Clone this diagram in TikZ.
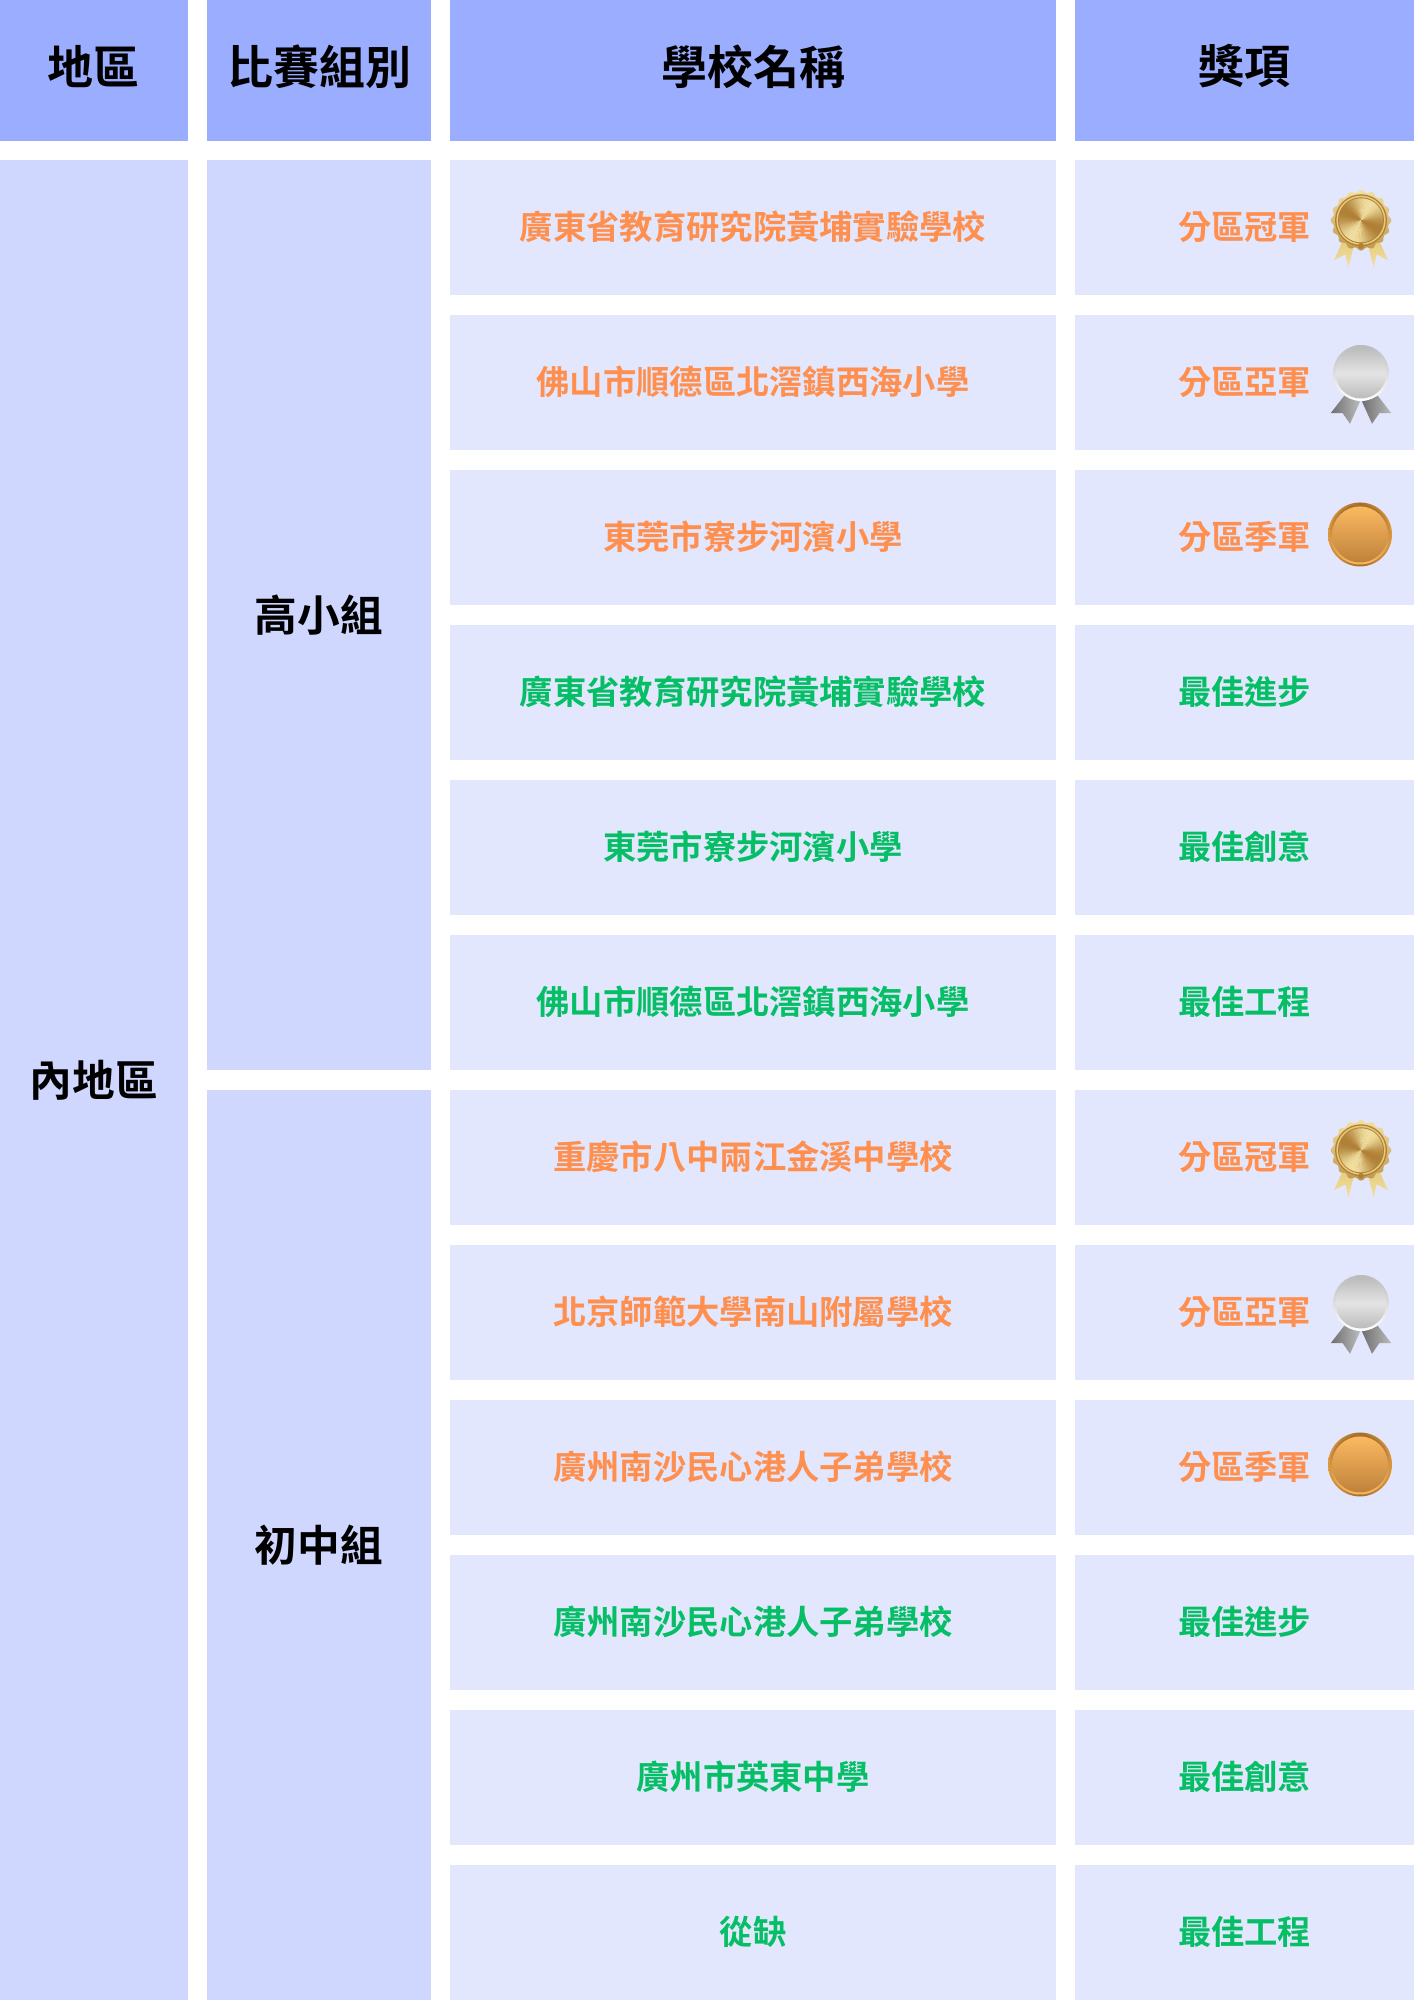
\documentclass[tikz,border=0pt]{standalone}
\usepackage{fontspec}
\setmainfont{Noto Sans CJK TC}[BoldFont={* Bold}]
\definecolor{headfill}{HTML}{9BADFF}
\definecolor{groupfill}{HTML}{CFD7FF}
\definecolor{cellfill}{HTML}{E2E7FD}
\definecolor{winnertext}{HTML}{FF8F4F}
\definecolor{merittext}{HTML}{05BE65}
\definecolor{goldhi}{HTML}{F2E0A2}
\definecolor{goldmid}{HTML}{E6CB7C}
\definecolor{golddk}{HTML}{B08036}
\definecolor{silverhi}{HTML}{E4E4E4}
\definecolor{silvermid}{HTML}{BBBBBB}
\definecolor{silverdk}{HTML}{6F6F6F}
\definecolor{bronzehi}{HTML}{FBB860}
\definecolor{bronzelo}{HTML}{BE823A}
\definecolor{bronzerim}{HTML}{A5702C}
\definecolor{bronzeedge}{HTML}{DE973C}
\tikzset{
  x=1pt,y=1pt,
  box/.style={rectangle,inner sep=0pt,outer sep=0pt,align=center},
  headcell/.style={box,fill=headfill,text=black,font=\bfseries\fontsize{46}{46}\selectfont},
  groupcell/.style={box,fill=groupfill,text=black,font=\bfseries\fontsize{42.7}{43}\selectfont},
  bodycell/.style={box,fill=cellfill,minimum height=135pt,text height=28pt,text depth=4pt,font=\bfseries\fontsize{33.3}{34}\selectfont},
  goldmedal/.pic={
    \foreach \sx in {1,-1}{
      \shade[xscale=\sx,top color=goldmid,bottom color=goldhi]
        (7,-25) -- (18,-20) -- (27,-40) -- (15.5,-34) -- (12.7,-47.5) -- cycle;
    }
    \shade[shading angle=-35,top color=goldhi,bottom color=golddk!70!goldmid]
      plot[domain=0:360,samples=145,smooth cycle] (\x:{29+1.3*cos(16*\x)});
    \fill[golddk] (0,0) circle[radius=26];
    \fill[goldmid] (0,0) circle[radius=24.6];
    \fill[golddk] (0,0) circle[radius=23];
    \foreach \a in {0,6,...,354}{
      \pgfmathsetmacro\mixval{50+50*cos(2*(\a-60))}
      \fill[goldhi!\mixval!golddk] (0,0) -- (\a:22) arc[start angle=\a,end angle=\a+6.6,radius=22] -- cycle;
    }
    \fill[golddk] (0,-25.5) circle[radius=3];
  },
  silvermedal/.pic={
    \foreach \sx in {1,-1}{
      \shade[xscale=\sx,left color=silverdk,right color=silvermid]
        (16,-21.8) -- (30.3,-40.2) -- (18.3,-40.2) -- (11,-50.8) -- (1,-28.5) -- cycle;
    }
    \shade[shading angle=-45,top color=silvermid,bottom color=white] (0,0) circle[radius=28];
    \shade[shading angle=30,top color=silvermid,bottom color=silvermid,middle color=silverhi] (0,0) circle[radius=25.5];
  },
  bronzemedal/.pic={
    \shade[left color=bronzeedge,right color=bronzeedge,middle color=bronzerim] (0,0) circle[radius=32];
    \shade[shading angle=-45,top color=bronzerim,bottom color=bronzehi] (0,0) circle[radius=30];
    \shade[shading angle=-45,top color=bronzehi,bottom color=bronzelo] (0,0) circle[radius=28];
  }
}
\begin{document}
\begin{tikzpicture}
\useasboundingbox (0,0) rectangle (1414,2000);
\clip (0,0) rectangle (1414,2000);
% header row: cells rise past the top edge, so their labels sit above the visible middle
\node[headcell,minimum width=187.5pt,minimum height=149pt] (h1) at (93.75,{2000-66.5}) {地區};
\node[headcell,minimum width=224pt,minimum height=149pt] (h2) at (319,{2000-66.5}) {比賽組別};
\node[headcell,minimum width=605.4pt,minimum height=149pt] (h3) at (753,{2000-66.5}) {學校名稱};
\node[headcell,minimum width=338.7pt,minimum height=149pt] (h4) at (1244.65,{2000-66.5}) {獎項};
% spanning cells
\node[groupcell,minimum width=187.5pt,minimum height=1840pt] (region) at (93.75,{2000-1080}) {內地區};
\node[groupcell,minimum width=224pt,minimum height=910pt] (upper) at (319,{2000-615}) {高小組};
\node[groupcell,minimum width=224pt,minimum height=910pt] (lower) at (319,{2000-1545}) {初中組};
% body rows
\foreach \n/\s/\a/\c in {
  0/廣東省教育研究院黃埔實驗學校/分區冠軍/winnertext,
  1/佛山市順德區北滘鎮西海小學/分區亞軍/winnertext,
  2/東莞市寮步河濱小學/分區季軍/winnertext,
  3/廣東省教育研究院黃埔實驗學校/最佳進步/merittext,
  4/東莞市寮步河濱小學/最佳創意/merittext,
  5/佛山市順德區北滘鎮西海小學/最佳工程/merittext,
  6/重慶市八中兩江金溪中學校/分區冠軍/winnertext,
  7/北京師範大學南山附屬學校/分區亞軍/winnertext,
  8/廣州南沙民心港人子弟學校/分區季軍/winnertext,
  9/廣州南沙民心港人子弟學校/最佳進步/merittext,
  10/廣州市英東中學/最佳創意/merittext,
  11/從缺/最佳工程/merittext}{
  \node[bodycell,minimum width=605.4pt,text=\c] (school\n) at (753,{2000-227.5-155*\n}) {\s};
  \node[bodycell,minimum width=338.7pt,text=\c] (award\n) at (1244.65,{2000-227.5-155*\n}) {\a};
}
% medals
\pic at (1361,{2000-220.3}) {goldmedal};
\pic at (1361,{2000-1150.3}) {goldmedal};
\pic at (1361,{2000-373}) {silvermedal};
\pic at (1361,{2000-1303}) {silvermedal};
\pic at (1360,{2000-534.5}) {bronzemedal};
\pic at (1360,{2000-1464.5}) {bronzemedal};
\end{tikzpicture}
\end{document}
